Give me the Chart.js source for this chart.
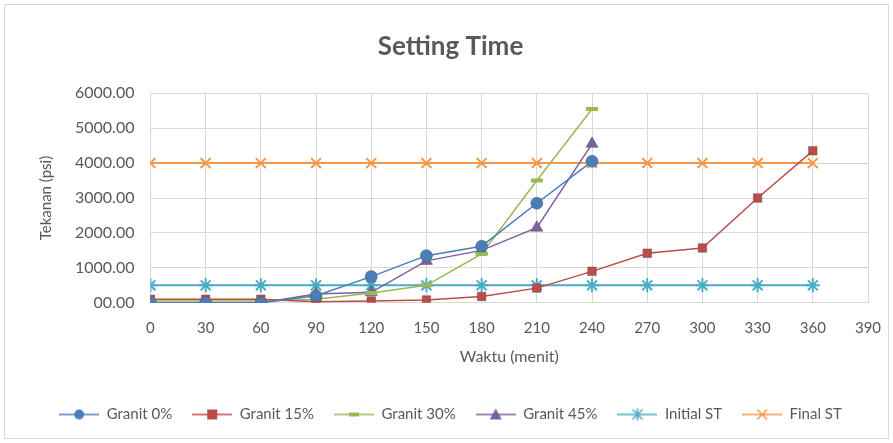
<!DOCTYPE html>
<html>
<head>
<meta charset="utf-8">
<script src="https://cdn.jsdelivr.net/npm/chart.js@4"></script>
<style>
  html, body { margin: 0; padding: 0; background: #fff; }
  #wrap { position: absolute; left: 4px; top: 4px; width: 885px; height: 435px; border: 1px solid #d9d9d9; box-sizing: border-box; }
  canvas { display: block; }
</style>
</head>
<body>
<div id="wrap"><canvas id="chart"></canvas></div>
<script>
// Data
const waktu = [0, 30, 60, 90, 120, 150, 180, 210, 240, 270, 300, 330, 360];
const granit0 = [0, 0, 0, 200, 750, 1350, 1620, 2850, 4050];
const granit15 = [100, 100, 100, 30, 50, 80, 180, 420, 900, 1420, 1570, 3000, 4350];
const granit30 = [50, 50, 50, 100, 280, 500, 1400, 3500, 5550];
const granit45 = [0, 0, 0, 250, 300, 1200, 1500, 2150, 4550];
const initialST = [500, 500, 500, 500, 500, 500, 500, 500, 500, 500, 500, 500, 500];
const finalST = [4000, 4000, 4000, 4000, 4000, 4000, 4000, 4000, 4000, 4000, 4000, 4000, 4000];
const seriesNames = ['Granit 0%', 'Granit 15%', 'Granit 30%', 'Granit 45%', 'Initial ST', 'Final ST'];
const seriesColors = ['#4a7ebb', '#be4b48', '#98b954', '#7d60a0', '#4bacc6', '#f79646'];
const markers = ['circle', 'rect', 'line', 'triangle', 'star', 'crossRot'];
const markerSizes = [6, 6, 6, 7, 7, 7];

function toPoints(vals) {
    return vals.map((v, i) => ({ x: waktu[i], y: v }));
}

const allSeries = [granit0, granit15, granit30, granit45, initialST, finalST];

const datasets = allSeries.map((vals, i) => ({
    label: seriesNames[i],
    data: toPoints(vals),
    borderColor: seriesColors[i],
    backgroundColor: seriesColors[i],
    pointStyle: markers[i],
    pointRadius: markerSizes[i],
    pointBorderColor: (i === 2) ? '#98b954' : (i >= 4 ? seriesColors[i] : '#555'),
    pointBorderWidth: (i === 2) ? 4 : (i >= 4 ? 2 : 0.5),
    borderWidth: (i >= 4) ? 2 : 1.5,
    tension: 0
}));

// legend icon: short line with the marker in the middle
function legendIcon(i) {
    const c = document.createElement('canvas');
    c.width = 40; c.height = 14;
    const g = c.getContext('2d');
    g.strokeStyle = seriesColors[i];
    g.lineWidth = 1.5;
    g.beginPath(); g.moveTo(0, 7); g.lineTo(40, 7); g.stroke();
    g.fillStyle = seriesColors[i];
    g.strokeStyle = seriesColors[i];
    g.lineWidth = 1.5;
    const cx = 20, cy = 7;
    if (markers[i] === 'circle') { g.beginPath(); g.arc(cx, cy, 5, 0, Math.PI * 2); g.fill(); }
    else if (markers[i] === 'rect') { g.fillRect(cx - 5, cy - 5, 10, 10); }
    else if (markers[i] === 'line') { g.fillRect(cx - 5, cy - 2, 10, 4); }
    else if (markers[i] === 'triangle') { g.beginPath(); g.moveTo(cx, cy - 6); g.lineTo(cx + 6, cy + 5); g.lineTo(cx - 6, cy + 5); g.closePath(); g.fill(); }
    else if (markers[i] === 'star') {
        g.beginPath();
        g.moveTo(cx - 5, cy - 5); g.lineTo(cx + 5, cy + 5);
        g.moveTo(cx + 5, cy - 5); g.lineTo(cx - 5, cy + 5);
        g.moveTo(cx, cy - 6); g.lineTo(cx, cy + 6);
        g.stroke();
    } else {
        g.beginPath();
        g.moveTo(cx - 5, cy - 5); g.lineTo(cx + 5, cy + 5);
        g.moveTo(cx + 5, cy - 5); g.lineTo(cx - 5, cy + 5);
        g.stroke();
    }
    return c;
}

const ctx = document.getElementById('chart').getContext('2d');
new Chart(ctx, {
    type: 'line',
    data: { datasets: datasets },
    options: {
        responsive: true,
        maintainAspectRatio: false,
        animation: false,
        layout: { padding: { left: 28, right: 20, top: 10, bottom: 6 } },
        plugins: {
            title: {
                display: true,
                text: 'Setting Time',
                color: '#595959',
                font: { family: 'Lato', size: 26, weight: 'bold' },
                padding: { top: 16, bottom: 31 }
            },
            legend: {
                position: 'bottom',
                labels: {
                    color: '#595959',
                    font: { family: 'Lato', size: 15 },
                    usePointStyle: true,
                    pointStyleWidth: 40,
                    padding: 20,
                    generateLabels: chart => chart.data.datasets.map((ds, i) => ({
                        text: ds.label,
                        pointStyle: legendIcon(i),
                        fontColor: '#595959',
                        datasetIndex: i,
                        hidden: false,
                        lineWidth: 0
                    }))
                }
            },
            tooltip: { enabled: false }
        },
        scales: {
            x: {
                type: 'linear',
                min: 0,
                max: 390,
                afterFit: scale => { scale.paddingRight = 0; },
                ticks: {
                    stepSize: 30,
                    color: '#595959',
                    padding: 16,
                    font: { family: 'Lato', size: 15 }
                },
                grid: { color: '#d9d9d9', drawTicks: false },
                border: { color: '#d9d9d9' },
                title: {
                    display: true,
                    text: 'Waktu (menit)',
                    color: '#595959',
                    font: { family: 'Lato', size: 16 },
                    padding: { top: -6, bottom: 21 }
                }
            },
            y: {
                min: 0,
                max: 6000,
                ticks: {
                    stepSize: 1000,
                    color: '#595959',
                    padding: 16,
                    font: { family: 'Lato', size: 16 },
                    callback: value => value === 0 ? '00.00' : value.toFixed(2)
                },
                grid: { color: '#d9d9d9', drawTicks: false },
                border: { color: '#d9d9d9' },
                title: {
                    display: true,
                    text: 'Tekanan (psi)',
                    color: '#595959',
                    font: { family: 'Lato', size: 15 }
                }
            }
        }
    }
});
</script>
</body>
</html>
